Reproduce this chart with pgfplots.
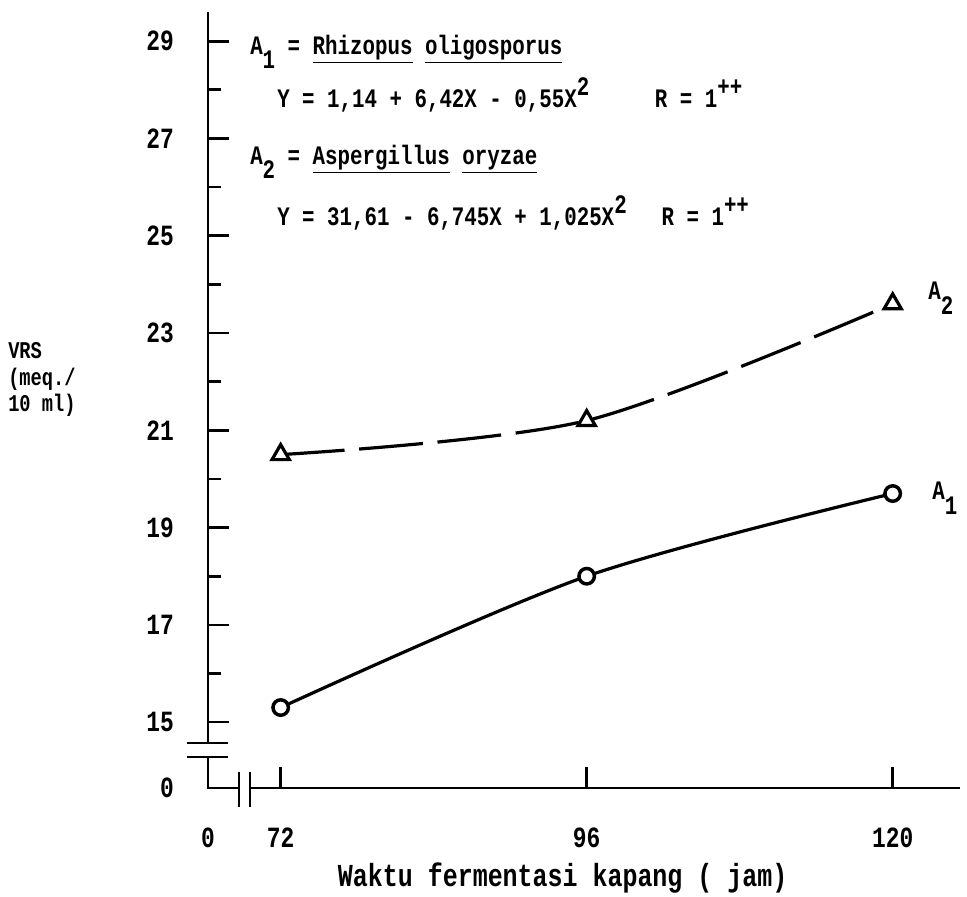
\documentclass[border=0pt]{standalone}
\usepackage{pgfplots}
\pgfplotsset{compat=1.18}
\usepackage{fontspec}
\setmainfont{Liberation Mono}[FakeStretch=0.78]
\newcommand{\tw}{\bfseries\fontsize{20}{24}\selectfont}
\newcommand{\tl}{\bfseries\fontsize{22}{24}\selectfont}
\begin{document}
\begin{tikzpicture}[font=\tw]
\path[use as bounding box] (-156pt,-81pt) rectangle (569.25pt,591pt);
\begin{axis}[at={(0,0)}, anchor=south west, scale only axis,
  width=564pt, height=582pt,
  xmin=66.3, xmax=125.28, ymin=13.646, ymax=29.60,
  axis lines=left, axis line style={draw=none,-},
  xtick={66.3,72,96,120}, xticklabels={0,72,96,120},
  ytick={13.646,15,17,19,21,23,25,27,29},
  yticklabels={0,15,17,19,21,23,25,27,29},
  minor ytick={16,18,...,28},
  tick align=inside, major tick length=16pt, minor tick length=10pt,
  tick style={line width=2pt, black},
  /pgf/number format/assume math mode=true,
  ticklabel style={font=\tl},
  yticklabel style={xshift=-22pt},
  xticklabel style={yshift=-26pt},
  clip=false]
\addplot[line width=2.4pt, smooth, mark=*, mark size=5.8pt,
  mark options={fill=white, line width=2.6pt}]
  coordinates {(72,15.3) (96,18.0) (120,19.7)};
\addplot[line width=2.4pt, smooth, dash pattern=on 48pt off 11pt,
  mark=triangle*, mark size=7.5pt,
  mark options={solid, fill=white, line width=2.4pt}]
  coordinates {(72,20.5) (96,21.2) (120,23.6)};
\end{axis}
% axes with breaks
\draw[line width=2.2pt] (0,582pt) -- (0,33.75pt);
\draw[line width=2.2pt] (-15.75pt,33.75pt) -- (15pt,33.75pt);
\draw[line width=2.2pt] (-15.75pt,23.25pt) -- (15pt,23.25pt);
\draw[line width=2.2pt] (0,23.25pt) -- (0,0) -- (23.25pt,0);
\draw[line width=2.2pt] (23.25pt,12pt) -- (23.25pt,-14.25pt);
\draw[line width=2.2pt] (31.5pt,12pt) -- (31.5pt,-14.25pt);
\draw[line width=2.2pt] (31.5pt,0) -- (564pt,0);
% y label
\node[anchor=base west, inner sep=0, font=\bfseries\fontsize{18}{20}\selectfont]
  at (-150pt,322pt) {VRS};
\node[anchor=base west, inner sep=0, font=\bfseries\fontsize{18}{20}\selectfont]
  at (-150pt,302pt) {(meq./};
\node[anchor=base west, inner sep=0, font=\bfseries\fontsize{18}{20}\selectfont]
  at (-150pt,282pt) {10 ml)};
% x label
\node[anchor=base, inner sep=0, font=\bfseries\fontsize{24}{26}\selectfont]
  at (266pt,-74pt) {Waktu fermentasi kapang ( jam)};
% equations
\node[anchor=base west, inner sep=0] at (31.5pt,549.75pt)
  {A\raisebox{-10pt}{1} = \underline{Rhizopus} \underline{oligosporus}};
\node[anchor=base west, inner sep=0] at (51.75pt,510pt)
  {Y = 1,14 + 6,42X - 0,55X\raisebox{9pt}{2}};
\node[anchor=base west, inner sep=0] at (335pt,510pt)
  {R = 1\raisebox{9pt}{++}};
\node[anchor=base west, inner sep=0] at (31.5pt,467.25pt)
  {A\raisebox{-10pt}{2} = \underline{Aspergillus} \underline{oryzae}};
\node[anchor=base west, inner sep=0] at (51.75pt,422pt)
  {Y = 31,61 - 6,745X + 1,025X\raisebox{9pt}{2}};
\node[anchor=base west, inner sep=0] at (340pt,422pt)
  {R = 1\raisebox{9pt}{++}};
% series labels
\node[anchor=base west, inner sep=0] at (540pt,366pt) {A\raisebox{-11pt}{2}};
\node[anchor=base west, inner sep=0] at (543pt,216pt) {A\raisebox{-11pt}{1}};
\end{tikzpicture}
\end{document}
